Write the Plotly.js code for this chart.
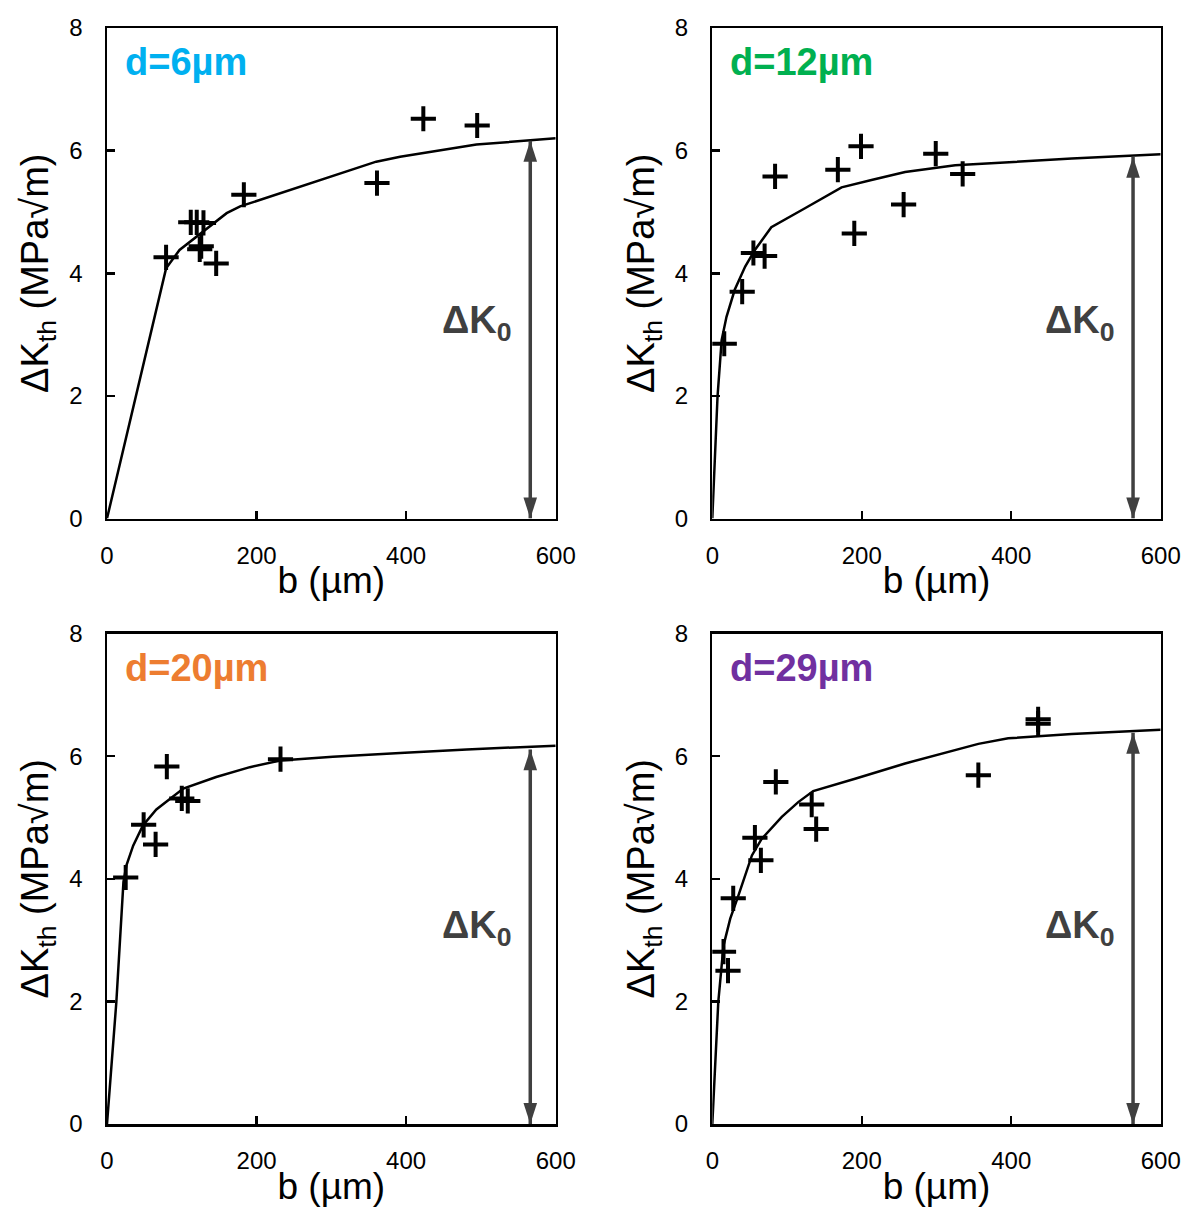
<!DOCTYPE html>
<html>
<head>
<meta charset="utf-8">
<script src="https://cdn.plot.ly/plotly-3.0.1.min.js"></script>
<style>html,body{margin:0;padding:0;background:#fff;}#chart{width:1188px;height:1207px;}</style>
</head>
<body>
<div id="chart"></div>
<script>
// ---- data ----
const panelLabels = ["d=6\u00b5m", "d=12\u00b5m", "d=20\u00b5m", "d=29\u00b5m"];
const panelColors = ["#00B0F0", "#00B050", "#ED7D31", "#7030A0"];

const exp6X  = [79, 112, 120, 129, 126, 124, 146, 183, 361, 423, 495];
const exp6Y  = [4.26, 4.83, 4.83, 4.82, 4.44, 4.39, 4.16, 5.28, 5.47, 6.52, 6.41];
const exp12X = [16, 40, 55, 70, 84, 168, 199, 190, 256, 299, 335];
const exp12Y = [2.85, 3.70, 4.33, 4.28, 5.58, 5.69, 6.07, 4.65, 5.12, 5.95, 5.62];
const exp20X = [25, 49, 65, 80, 100, 108, 232];
const exp20Y = [4.02, 4.88, 4.56, 5.83, 5.31, 5.27, 5.95];
const exp29X = [15, 21, 28, 57, 65, 85, 133, 139, 356, 436, 436];
const exp29Y = [2.81, 2.50, 3.68, 4.67, 4.30, 5.58, 5.21, 4.81, 5.69, 6.60, 6.53];

const fit6X  = [0, 79, 97, 133, 160, 178, 360, 392, 494, 600];
const fit6Y  = [0, 4.08, 4.38, 4.73, 4.98, 5.09, 5.82, 5.90, 6.10, 6.20];
const fit12X = [0, 7, 12.5, 19, 30, 44, 57, 79, 124, 173, 213, 258, 325, 392, 481, 600];
const fit12Y = [0, 1.99, 2.91, 3.29, 3.73, 4.11, 4.38, 4.75, 5.06, 5.40, 5.52, 5.65, 5.76, 5.81, 5.87, 5.94];
const fit20X = [0, 12.5, 22, 26, 35, 48, 66, 102, 146, 191, 232, 302, 392, 481, 600];
const fit20Y = [0, 1.99, 3.95, 4.22, 4.54, 4.87, 5.13, 5.47, 5.66, 5.82, 5.93, 5.99, 6.05, 6.11, 6.17];
const fit29X = [0, 8, 15, 24, 35, 53, 66, 93, 115, 135, 191, 258, 356, 396, 481, 600];
const fit29Y = [0, 1.99, 2.91, 3.35, 3.73, 4.38, 4.65, 5.01, 5.25, 5.43, 5.63, 5.88, 6.20, 6.29, 6.36, 6.43];

const dK0X = [566, 563, 566, 563];
const dK0Y = [6.16, 5.90, 6.11, 6.38];

const xTicks = [0, 200, 400, 600];
const yTicks = [0, 2, 4, 6, 8];
const xTitle = "b (\u00b5m)";
const yTitle = "\u0394K<sub>th</sub> (MPa\u221am)";

const expX = [exp6X, exp12X, exp20X, exp29X];
const expY = [exp6Y, exp12Y, exp20Y, exp29Y];
const fitX = [fit6X, fit12X, fit20X, fit29X];
const fitY = [fit6Y, fit12Y, fit20Y, fit29Y];

// ---- layout geometry (pixels) ----
const W = 1188, H = 1207;
const cols = [[107, 555.7], [712.3, 1160.7]];
const rows = [[28, 518.5], [633.5, 1124]];

const FONT = "Liberation Sans, Arial, sans-serif";
const traces = [];
const layout = {
  width: W, height: H,
  margin: {l: 0, r: 0, t: 0, b: 0},
  paper_bgcolor: "#fff", plot_bgcolor: "#fff",
  showlegend: false,
  font: {family: FONT, color: "#000"},
  annotations: [],
};

for (let i = 0; i < 4; i++) {
  const c = cols[i % 2], r = rows[Math.floor(i / 2)];
  const sfx = i === 0 ? "" : String(i + 1);
  const xa = "x" + sfx, ya = "y" + sfx;
  layout["xaxis" + sfx] = {
    domain: [c[0] / W, c[1] / W], anchor: ya, range: [0, 600],
    tickvals: xTicks, ticktext: xTicks.map(String),
    ticks: "inside", ticklen: 8, tickwidth: 2.5, tickcolor: "#000",
    showline: true, linewidth: 2.5, linecolor: "#000", mirror: true,
    showgrid: false, zeroline: false, fixedrange: true,
    tickfont: {size: 24, family: FONT, color: "#000"},
    ticklabelstandoff: 14,
    title: {text: xTitle, font: {size: 37, family: FONT, color: "#000"}, standoff: 0},
  };
  layout["yaxis" + sfx] = {
    domain: [1 - r[1] / H, 1 - r[0] / H], anchor: xa, range: [0, 8],
    tickvals: yTicks, ticktext: yTicks.map(String),
    ticks: "inside", ticklen: 8, tickwidth: 2.5, tickcolor: "#000",
    showline: true, linewidth: 2.5, linecolor: "#000", mirror: true,
    showgrid: false, zeroline: false, fixedrange: true,
    tickfont: {size: 24, family: FONT, color: "#000"},
    ticklabelstandoff: 17,
    title: {text: yTitle, font: {size: 38, family: FONT, color: "#000"}, standoff: 9},
  };

  traces.push({
    type: "scatter", mode: "lines", x: fitX[i], y: fitY[i], xaxis: xa, yaxis: ya,
    line: {color: "#000", width: 2.5}, hoverinfo: "skip",
  });
  traces.push({
    type: "scatter", mode: "markers", x: expX[i], y: expY[i], xaxis: xa, yaxis: ya,
    marker: {symbol: "cross-thin", size: 18, color: "#000", line: {color: "#000", width: 4}},
  });
  // double-headed arrow for ΔK0
  traces.push({
    type: "scatter", mode: "lines+markers", x: [dK0X[i], dK0X[i]], y: [0, dK0Y[i]],
    xaxis: xa, yaxis: ya, hoverinfo: "skip",
    line: {color: "#404040", width: 3.5},
    marker: {symbol: "arrow", size: 22, angle: [180, 0], color: "#404040", line: {width: 0}},
  });

  layout.annotations.push({
    xref: xa, yref: ya, x: dK0X[i] - 22, y: 3.19, xanchor: "right", yanchor: "middle",
    showarrow: false, text: "<b>\u0394K<sub>0</sub></b>",
    font: {size: 38, family: FONT, color: "#404040"},
  });
  // panel label
  layout.annotations.push({
    xref: xa + " domain", yref: ya + " domain", x: 0, y: 1, xanchor: "left", yanchor: "middle",
    xshift: 16, yshift: -34, showarrow: false, text: "<b>" + panelLabels[i] + "</b>",
    font: {size: 38, family: FONT, color: panelColors[i]},
  });
}

Plotly.newPlot("chart", traces, layout, {staticPlot: true, displayModeBar: false});
</script>
</body>
</html>
